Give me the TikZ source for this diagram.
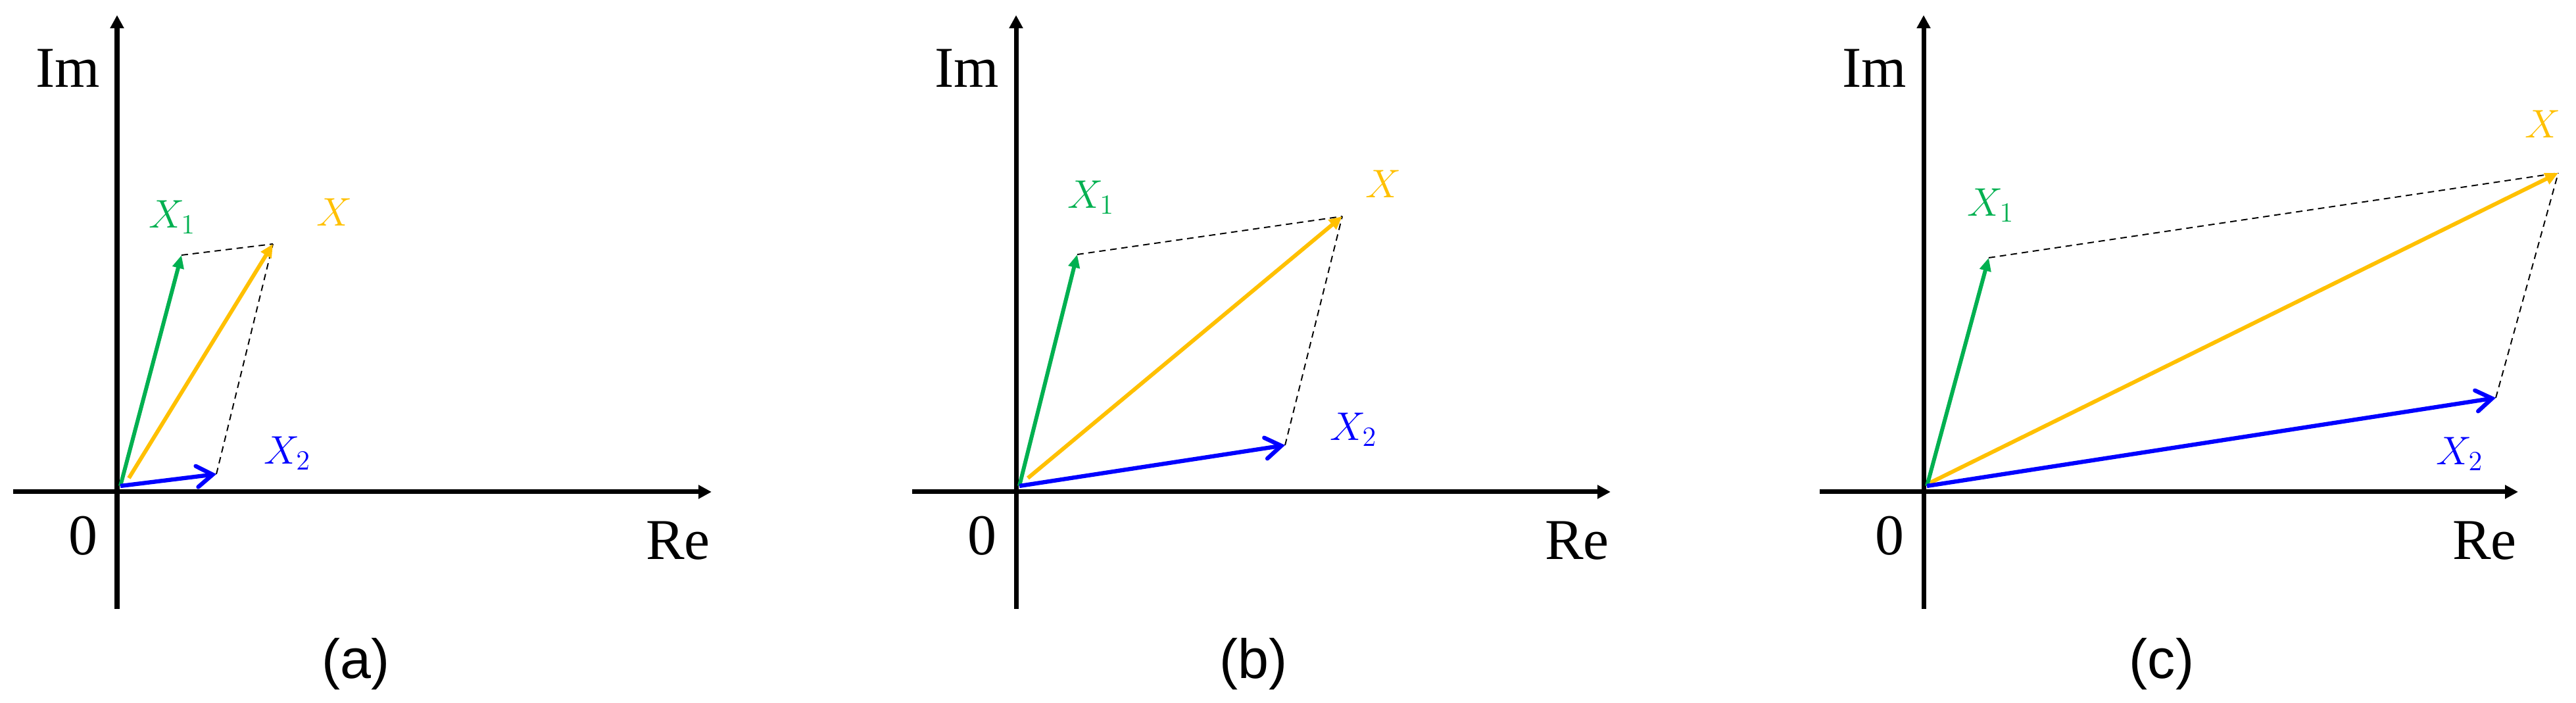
\documentclass[tikz,border=0pt]{standalone}
\usepackage{fontspec}
\setmainfont{Liberation Serif}
\newfontfamily\capfont{Liberation Sans}
\usepackage{tikz}
\usetikzlibrary{arrows.meta}
\definecolor{vgreen}{RGB}{0,176,80}
\definecolor{vgold}{RGB}{255,192,0}
\definecolor{vblue}{RGB}{0,0,255}
\tikzset{
  axis/.style={line width=2pt,-{Triangle[length=0.2cm,width=0.2cm]}},
  vecone/.style={vgreen,line width=1.7pt,-{Triangle[length=0.2cm,width=0.17cm]}},
  vecsum/.style={vgold,line width=1.7pt,-{Triangle[length=0.2cm,width=0.18cm]}},
  vectwo/.style={vblue,line width=1.8pt,-{Straight Barb[length=0.24cm,width=0.32cm,line cap=round]}},
  guide/.style={black,line width=0.55pt,dash pattern=on 2.8pt off 2pt},
  axlabel/.style={font=\fontsize{25}{28}\selectfont,inner sep=0pt},
  veclabel/.style={font=\fontsize{17.28}{20}\selectfont,inner sep=0pt},
  caplabel/.style={font=\capfont\fontsize{24}{28}\selectfont,inner sep=0pt}
}

\begin{document}
\begin{tikzpicture}
\useasboundingbox (0,0) rectangle (39.17,10.69);
%
% (a)
\begin{scope}[shift={(1.78,3.21)}]
\coordinate (La) at (-1.58,0);
\coordinate (Ra) at (9.04,0);
\coordinate (Ba) at (0,-1.78);
\coordinate (Ua) at (0,7.25);
\coordinate (Sa) at (0.05,0.09);
\coordinate (Ta) at (0.18,0.21);
\coordinate (X1a) at (0.98,3.60);
\coordinate (Xa) at (2.37,3.77);
\coordinate (X2a) at (1.51,0.27);
\draw[axis] (La) -- (Ra);
\draw[axis] (Ba) -- (Ua);
\draw[guide] (X1a) -- (Xa);
\draw[guide] (X2a) -- (Xa);
\draw[vecsum] (Ta) -- (Xa);
\draw[vecone] (Sa) -- (X1a);
\draw[vectwo] (Sa) -- (X2a);
\node[axlabel] (ima) at (-0.75,6.44) {Im};
\node[axlabel] (zeroa) at (-0.52,-0.67) {0};
\node[axlabel] (rea) at (8.53,-0.74) {Re};
\node[veclabel,text=vgreen] (lx1a) at (0.84,4.18) {$X_1$};
\node[veclabel,text=vgold] (lxa) at (3.31,4.25) {$X$};
\node[veclabel,text=vblue] (lx2a) at (2.59,0.59) {$X_2$};
\node[caplabel] (capa) at (3.63,-2.62) {(a)};
\end{scope}
%
% (b)
\begin{scope}[shift={(15.45,3.21)}]
\coordinate (Lb) at (-1.58,0);
\coordinate (Rb) at (9.04,0);
\coordinate (Bb) at (0,-1.78);
\coordinate (Ub) at (0,7.25);
\coordinate (Sb) at (0.05,0.09);
\coordinate (Tb) at (0.18,0.21);
\coordinate (X1b) at (0.93,3.61);
\coordinate (Xb) at (4.96,4.19);
\coordinate (X2b) at (4.09,0.71);
\draw[axis] (Lb) -- (Rb);
\draw[axis] (Bb) -- (Ub);
\draw[guide] (X1b) -- (Xb);
\draw[guide] (X2b) -- (Xb);
\draw[vecsum] (Tb) -- (Xb);
\draw[vecone] (Sb) -- (X1b);
\draw[vectwo] (Sb) -- (X2b);
\node[axlabel] (imb) at (-0.75,6.44) {Im};
\node[axlabel] (zerob) at (-0.52,-0.67) {0};
\node[axlabel] (reb) at (8.53,-0.74) {Re};
\node[veclabel,text=vgreen] (lx1b) at (1.14,4.48) {$X_1$};
\node[veclabel,text=vgold] (lxb) at (5.59,4.68) {$X$};
\node[veclabel,text=vblue] (lx2b) at (5.13,0.95) {$X_2$};
\node[caplabel] (capb) at (3.61,-2.62) {(b)};
\end{scope}
%
% (c)
\begin{scope}[shift={(29.25,3.21)}]
\coordinate (Lc) at (-1.58,0);
\coordinate (Rc) at (9.04,0);
\coordinate (Bc) at (0,-1.78);
\coordinate (Uc) at (0,7.25);
\coordinate (Sc) at (0.05,0.09);
\coordinate (Tc) at (0.10,0.14);
\coordinate (X1c) at (0.99,3.56);
\coordinate (Xc) at (9.65,4.85);
\coordinate (X2c) at (8.70,1.43);
\draw[axis] (Lc) -- (Rc);
\draw[axis] (Bc) -- (Uc);
\draw[guide] (X1c) -- (Xc);
\draw[guide] (X2c) -- (Xc);
\draw[vecsum] (Tc) -- (Xc);
\draw[vecone] (Sc) -- (X1c);
\draw[vectwo] (Sc) -- (X2c);
\node[axlabel] (imc) at (-0.75,6.44) {Im};
\node[axlabel] (zeroc) at (-0.52,-0.67) {0};
\node[axlabel] (rec) at (8.53,-0.74) {Re};
\node[veclabel,text=vgreen] (lx1c) at (1.02,4.36) {$X_1$};
\node[veclabel,text=vgold] (lxc) at (9.42,5.59) {$X$};
\node[veclabel,text=vblue] (lx2c) at (8.15,0.58) {$X_2$};
\node[caplabel] (capc) at (3.62,-2.62) {(c)};
\end{scope}
%
\end{tikzpicture}
\end{document}
